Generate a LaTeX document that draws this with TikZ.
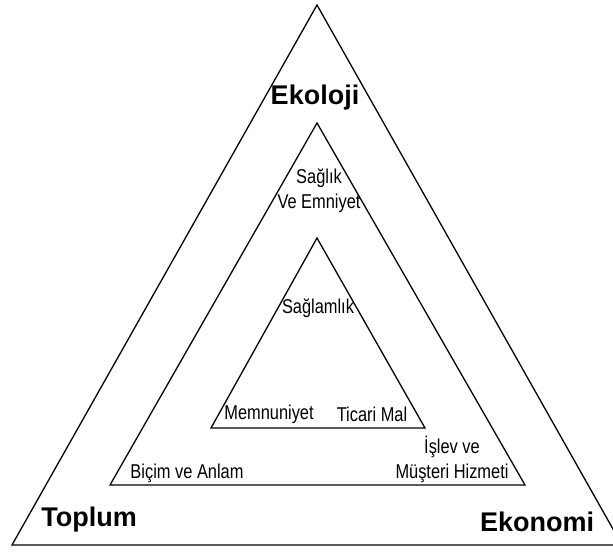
\documentclass[tikz,border=0pt]{standalone}
\usepackage{fontspec}
\setmainfont{Liberation Sans}
\newfontfamily\narrowfont[FakeStretch=0.82]{Liberation Sans}
\usepackage{tikz}

\begin{document}
\begin{tikzpicture}[x=1pt,y=-1pt,line width=1.3pt,
  bigtext/.style={font=\fontsize{27}{27}\selectfont\bfseries},
  smalltext/.style={font=\fontsize{20}{25}\selectfont\narrowfont,align=center}]
\useasboundingbox (0,0) rectangle (613,553);
\clip (0,0) rectangle (613,553);

\draw (317,5) -- (12,545) -- (622,545) -- cycle;
\draw (317,123) -- (110,485) -- (525,485) -- cycle;
\draw (317,238) -- (211,428) -- (425,428) -- cycle;

\node[bigtext] (ekoloji) at (315,98) {Ekoloji};
\node[bigtext] (toplum) at (89,520) {Toplum};
\node[bigtext] (ekonomi) at (537,522) {Ekonomi};

\node[smalltext] (saglik) at (319,191) {Sağlık\\Ve Emniyet};
\node[smalltext] (saglamlik) at (318,308) {Sağlamlık};
\node[smalltext] (memnuniyet) at (269,414) {Memnuniyet};
\node[smalltext] (ticari) at (372,414) {Ticari Mal};
\node[smalltext] (islev) at (452,459) {İşlev ve\\Müşteri Hizmeti};
\node[smalltext] (bicim) at (187,473) {Biçim ve Anlam};
\end{tikzpicture}
\end{document}
